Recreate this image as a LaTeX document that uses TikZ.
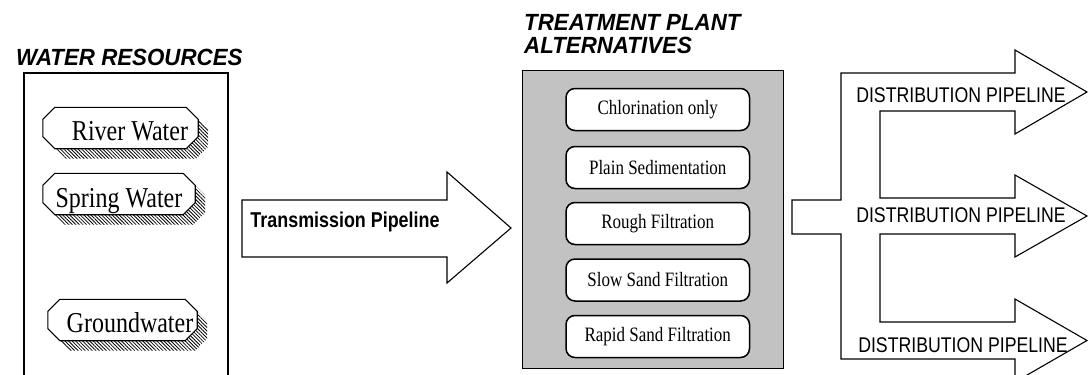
\documentclass[tikz,border=0pt]{standalone}
\usepackage{fontspec}
\setmainfont{Liberation Serif}
\newfontfamily\hsans{Liberation Sans}
\usepackage{graphicx}
\usetikzlibrary{patterns.meta}
\newcommand{\vst}[1]{\scalebox{1}[1.2]{#1}}
\newcommand{\vsttl}[1]{\scalebox{1}[1.05]{#1}}
\newcommand{\octpath}[1]{([xshift=12pt]#1.north west) -- ([xshift=-12pt]#1.north east) -- ([yshift=-12pt]#1.north east) -- ([yshift=12pt]#1.south east) -- ([xshift=-12pt]#1.south east) -- ([xshift=12pt]#1.south west) -- ([yshift=12pt]#1.south west) -- ([yshift=-12pt]#1.north west) -- cycle}
\tikzset{
 outline/.style={draw=black, line width=1.1pt},
 ttl/.style={inner sep=0pt, anchor=base west, font=\hsans\bfseries\itshape\fontsize{22.3}{26}\selectfont},
 octobox/.style={rectangle, minimum height=41pt, inner sep=0pt},
 octoline/.style={draw=black, line width=1.1pt, fill=white},
 hatch/.style={pattern={Lines[angle=-45,distance=2.5pt,line width=0.8pt]}},
 octotxt/.style={inner sep=0pt, anchor=base, font=\fontsize{24}{28}\selectfont},
 alt/.style={draw, rounded corners=9pt, line width=1.5pt, fill=white, minimum width=183.5pt,
   minimum height=42pt, inner sep=0pt, font=\fontsize{17}{20}\selectfont},
 pipetxt/.style={inner sep=0pt, anchor=base, font=\hsans\fontsize{17.7}{20}\selectfont},
 transtxt/.style={inner sep=0pt, anchor=base, font=\hsans\bfseries\fontsize{17.9}{20}\selectfont},
}
\begin{document}
\begin{tikzpicture}[x=1pt,y=-1pt]
\useasboundingbox (0,0) rectangle (1088,375);
\begin{scope}
\clip (0,0) rectangle (1088,375);
% titles
\node[ttl] (t1) at (16,65) {\vsttl{WATER RESOURCES}};
\node[ttl] (t2) at (524,30) {\vsttl{TREATMENT PLANT}};
\node[ttl] (t3) at (524,53) {\vsttl{ALTERNATIVES}};
% water resources box
\draw[outline] (24,376) -- (24,73) -- (228,73) -- (228,376);
\node[octobox, minimum width=155pt] (river) at (120.5,128) {};
\node[octobox, minimum width=152pt] (spring) at (119,194) {};
\node[octobox, minimum width=149pt] (ground) at (122.5,320) {};
\begin{scope}[transform canvas={shift={(10pt,-10pt)}}]
\fill[hatch] \octpath{river};
\fill[hatch] \octpath{spring};
\fill[hatch] \octpath{ground};
\end{scope}
\path[octoline] \octpath{river};
\path[octoline] \octpath{spring};
\path[octoline] \octpath{ground};
\node[octotxt] (rivert) at (130,140) {\vst{River Water}};
\node[octotxt] (springt) at (119,207) {\vst{Spring Water}};
\node[octotxt] (groundt) at (130,332) {\vst{Groundwater}};
% transmission arrow
\draw[outline] (242,200) -- (447,200) -- (447,172) -- (511,228) -- (447,283) -- (447,257) -- (242,257) -- cycle;
\node[transtxt] (trans) at (345,227) {\vst{Transmission Pipeline}};
% treatment plant box
\node[draw, line width=1pt, fill=black!24, minimum width=261pt, minimum height=298pt, inner sep=0pt, anchor=north west] (plant) at (522,70) {};
\node[alt] (a1) at (657.75,109.5) {\vst{Chlorination only}};
\node[alt] (a2) at (657.75,167.5) {\vst{Plain Sedimentation}};
\node[alt] (a3) at (657.75,223.5) {\vst{Rough Filtration}};
\node[alt] (a4) at (657.75,280) {\vst{Slow Sand Filtration}};
\node[alt] (a5) at (657.75,336.5) {\vst{Rapid Sand Filtration}};
% distribution pipelines
\draw[outline] (792,200) -- (841,200) -- (841,73) -- (1015,73) -- (1015,50) -- (1087,92) -- (1015,134) -- (1015,111)
  -- (880,111) -- (880,198) -- (1015,198) -- (1015,175) -- (1087,216) -- (1015,257) -- (1015,234)
  -- (880,234) -- (880,322) -- (1015,322) -- (1015,299) -- (1087,340.5) -- (1015,382) -- (1015,359)
  -- (841,359) -- (841,234) -- (792,234) -- cycle;
\node[pipetxt] (d1) at (961,102) {\vst{DISTRIBUTION PIPELINE}};
\node[pipetxt] (d2) at (961,222) {\vst{DISTRIBUTION PIPELINE}};
\node[pipetxt] (d3) at (963,352) {\vst{DISTRIBUTION PIPELINE}};
\end{scope}
\end{tikzpicture}
\end{document}
